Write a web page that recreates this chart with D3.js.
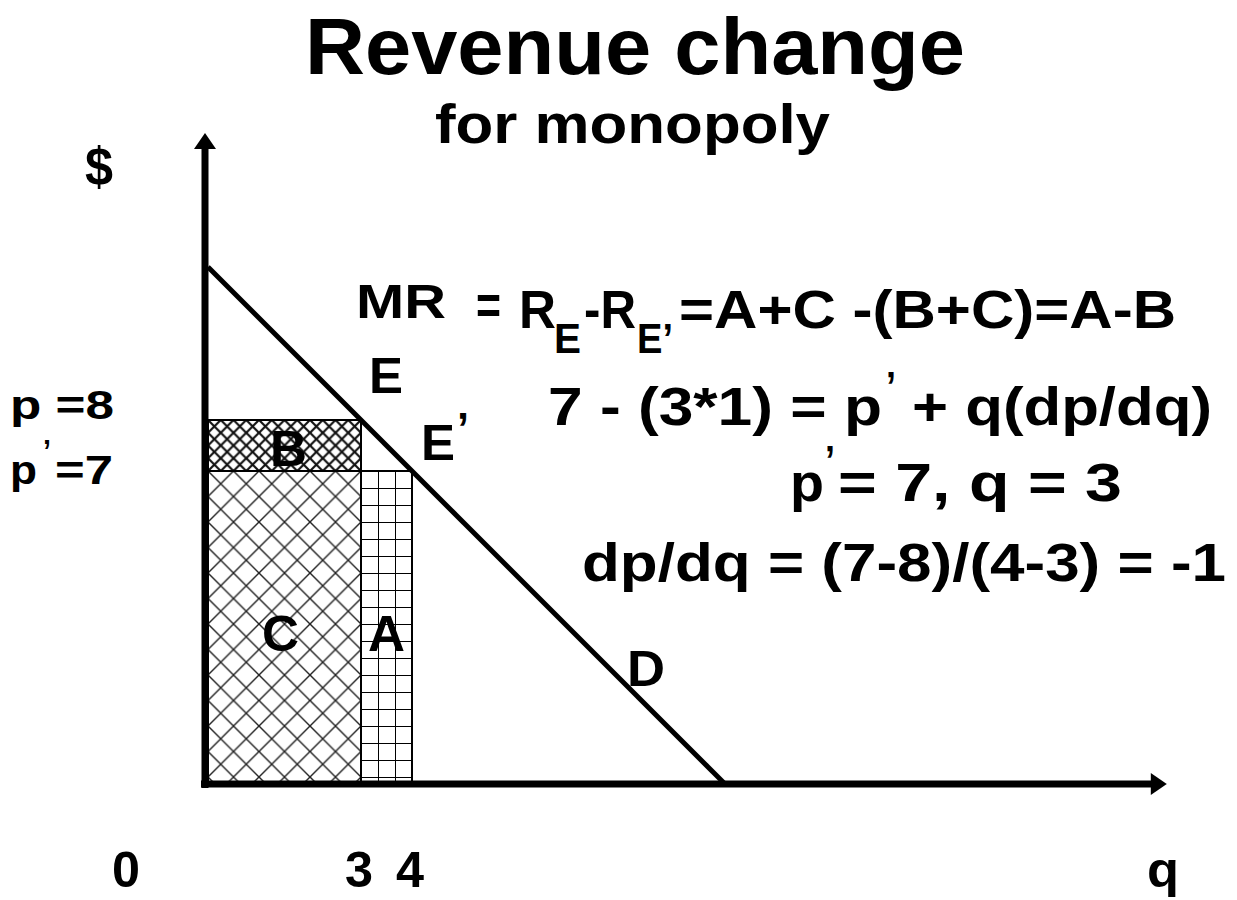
<!DOCTYPE html>
<html>
<head>
<meta charset="utf-8">
<script src="https://cdn.jsdelivr.net/npm/d3@7"></script>
<style>
  body { margin: 0; background: #fff; }
  text { font-family: "Liberation Sans", Arial, sans-serif; font-weight: bold; fill: #000; }
</style>
</head>
<body>
<div id="vis"></div>
<script>
// values
const quantities = [3, 4];              // q at E, q at E'
const prices = [8, 7];                  // p at E, p' at E'
const demandTop = 11;                   // demand: p = 11 - q
const qAxisEnd = 18.8;
const areaNames = ["B", "C", "A"];
const areaQ = [[0, 3], [0, 3], [3, 4]];
const areaP = [[7, 8], [0, 7], [0, 7]];
const areaPattern = ["fine", "coarse", "grid"];
const qTicks = [0, 3, 4];

let width = 1237;
let height = 900;
let origin = { x: 205, y: 784 };

let svg = d3.select("#vis").append("svg").attr("width", width).attr("height", height)

// one price unit = one quantity unit on screen (slope -1)
const xScale = d3.scaleLinear().domain([0, 10]).range([208, 718]);
const yScale = d3.scaleLinear().domain([7, 8]).range([471, 420]);
const yc = p => Math.min(yScale(p), origin.y);

// hatch patterns
let defs = svg.append("defs");
let fine = defs.append("pattern").attr("id", "fine").attr("patternUnits", "userSpaceOnUse")
    .attr("x", xScale(0)).attr("y", yScale(8)).attr("width", 12.75).attr("height", 12.75);
fine.append("path").attr("d", "M-2,-2L14.75,14.75M14.75,-2L-2,14.75")
    .attr("stroke", "#111").attr("stroke-width", 2.2);
let coarse = defs.append("pattern").attr("id", "coarse").attr("patternUnits", "userSpaceOnUse")
    .attr("x", xScale(0)).attr("y", yScale(7)).attr("width", 25.5).attr("height", 25.5);
coarse.append("path").attr("d", "M-2,-2L27.5,27.5M27.5,-2L-2,27.5")
    .attr("stroke", "#222").attr("stroke-width", 1.4);
let grid = defs.append("pattern").attr("id", "grid").attr("patternUnits", "userSpaceOnUse")
    .attr("x", xScale(3)).attr("y", yScale(7)).attr("width", 17).attr("height", 17);
grid.append("path").attr("d", "M0,0H17M0,0V17")
    .attr("stroke", "#000").attr("stroke-width", 2);

// revenue areas
svg.append("g").selectAll("rect")
    .data(areaNames)
    .enter().append("rect")
    .attr("x", (d, i) => xScale(areaQ[i][0]))
    .attr("y", (d, i) => yc(areaP[i][1]))
    .attr("width", (d, i) => xScale(areaQ[i][1]) - xScale(areaQ[i][0]))
    .attr("height", (d, i) => yc(areaP[i][0]) - yc(areaP[i][1]))
    .attr("fill", (d, i) => "url(#" + areaPattern[i] + ")")
    .attr("stroke", "#000").attr("stroke-width", 2);

// area labels
const areaBase = [466, 651, 651];
svg.append("g").selectAll("text")
    .data(areaNames)
    .enter().append("text")
    .attr("x", (d, i) => (xScale(areaQ[i][0]) + xScale(areaQ[i][1])) / 2 + (d == "B" ? 4 : d == "C" ? -4 : 0))
    .attr("y", (d, i) => areaBase[i])
    .attr("text-anchor", "middle")
    .style("font-size", "50px")
    .attr("textLength", 37)
    .attr("lengthAdjust", "spacingAndGlyphs")
    .text(d => d);

// axes with arrows
svg.append("line").attr("x1", origin.x).attr("y1", origin.y + 4).attr("x2", origin.x).attr("y2", 146)
    .attr("stroke", "#000").attr("stroke-width", 7);
svg.append("path").attr("d", `M${origin.x},133L${origin.x - 11},149L${origin.x + 11},149Z`).attr("fill", "#000");
let xEnd = xScale(qAxisEnd);
svg.append("line").attr("x1", origin.x - 4).attr("y1", origin.y).attr("x2", xEnd - 14).attr("y2", origin.y)
    .attr("stroke", "#000").attr("stroke-width", 7);
svg.append("path").attr("d", `M${xEnd},${origin.y}L${xEnd - 16},${origin.y - 11}L${xEnd - 16},${origin.y + 11}Z`).attr("fill", "#000");

// demand curve, cut where it meets the q axis
let pFloor = yScale.invert(origin.y);
svg.append("line")
    .attr("x1", xScale(0)).attr("y1", yScale(demandTop))
    .attr("x2", xScale(demandTop - pFloor)).attr("y2", origin.y)
    .attr("stroke", "#000").attr("stroke-width", 5);

// tick labels on q axis
svg.append("g").selectAll("text")
    .data(qTicks)
    .enter().append("text")
    .attr("x", d => d == 0 ? 126 : xScale(d) - 2)
    .attr("y", 887)
    .attr("text-anchor", "middle")
    .style("font-size", "50px")
    .attr("textLength", 28)
    .attr("lengthAdjust", "spacingAndGlyphs")
    .text(d => d);

// plain text pieces: [text, x, baseline, size, length]
const labels = [
    ["Revenue change", 305, 74, 80, 660],
    ["for monopoly", 435, 143, 56, 395],
    ["$", 85, 185, 54, 28],
    ["q", 1147, 887, 50, 32],
    ["p =8", 10, 419, 40, 104],
    ["p", 10, 484, 40, 27],
    ["’", 43, 462, 32, 8],
    ["=7", 55, 484, 40, 58],
    ["E", 369, 393, 50, 34],
    ["E", 421, 460, 50, 34],
    ["’", 457, 444, 44, 12],
    ["D", 627, 686, 50, 38],
    ["MR", 356, 318, 48, 90],
    ["=", 476, 324, 56, 25],
    ["R", 519, 328, 54, 37],
    ["E", 554, 353, 42, 27],
    ["-R", 584, 328, 54, 52],
    ["E’", 637, 353, 42, 36],
    ["=A+C -(B+C)=A-B", 679, 328, 54, 497],
    ["7  -  (3*1)  =  p", 548, 425, 54, 334],
    ["’", 886, 400, 40, 10],
    ["+  q(dp/dq)", 912, 425, 54, 300],
    ["p", 790, 501, 54, 34],
    ["’", 825, 474, 40, 10],
    ["=  7,  q  =  3", 838, 501, 54, 284],
    ["dp/dq  =  (7-8)/(4-3)  =  -1", 582, 581, 54, 644]
];

svg.append("g").selectAll("text")
    .data(labels)
    .enter().append("text")
    .attr("x", d => d[1])
    .attr("y", d => d[2])
    .style("font-size", d => d[3] + "px")
    .attr("textLength", d => d[4])
    .attr("lengthAdjust", "spacingAndGlyphs")
    .text(d => d[0]);
</script>
</body>
</html>
